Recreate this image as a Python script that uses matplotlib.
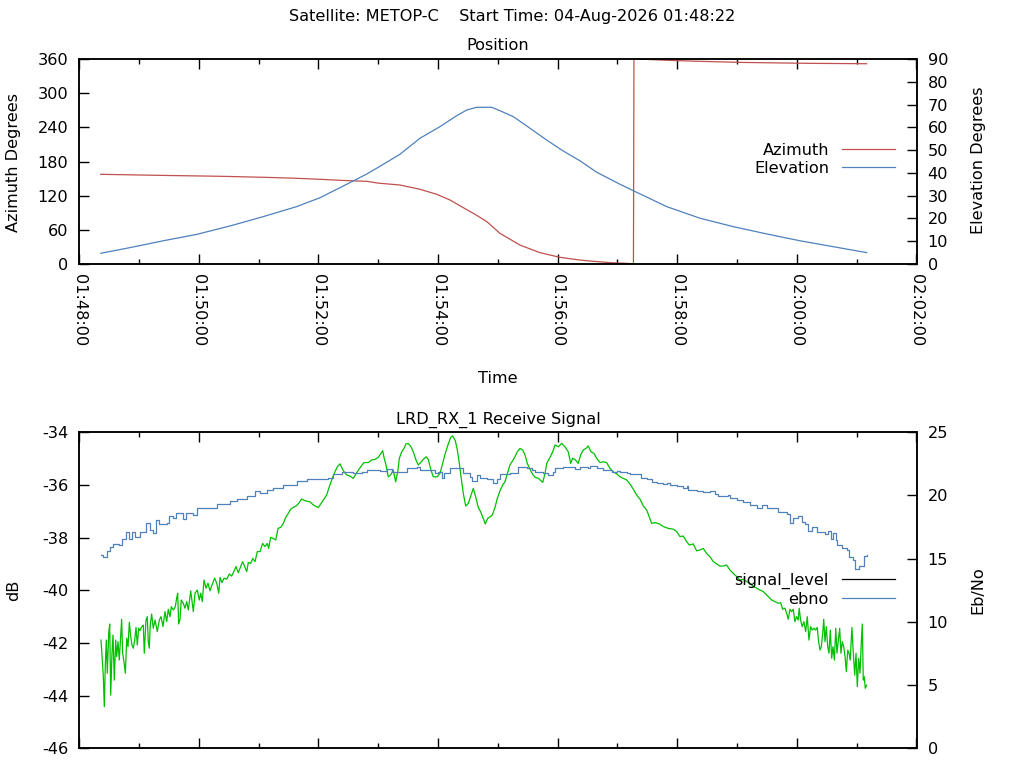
import matplotlib
matplotlib.use("Agg")
import matplotlib.pyplot as plt
import matplotlib.dates as mdates
from matplotlib.lines import Line2D
import pandas as pd

# ---------------- data (seconds after 01:48:00) ----------------
base = pd.Timestamp("2026-08-04 01:48:00")

az_t = [21.5, 76.0, 142.8, 186.3, 218.1, 242.2, 260.9, 288.4, 300.0, 321.8, 341.8, 358.6,
        371.9, 385.3, 397, 409, 422, 442, 462, 482, 502, 516, 533, 548, 556,
        556.5, 567, 590, 621, 665, 732, 790]
az_v = [157.5, 155.8, 154.0, 152.2, 150.5, 148.7, 147.0, 145.2, 142.0, 138.7, 131.2, 122.4,
        112.4, 98.9, 87.3, 74.3, 53.9, 33.4, 20.0, 11.8, 7, 4.7, 2.3, 1.2, 0.5,
        359.8, 359.5, 357.7, 356, 354, 352.4, 351.7]

el_t = [21.5, 50.9, 84.3, 117.8, 151.2, 184.6, 218.1, 241.5, 268.3, 288.4, 301.7, 321.8,
        341.8, 361.9, 378.6, 388.7, 398.7, 413.8, 422.1, 435.4, 452.2, 469.0, 485.6, 502.4,
        519.1, 542.5, 555.8, 589.3, 622.7, 656.2, 689.7, 723.1, 756.5, 790.0]
el_v = [4.7, 7.2, 10.2, 13.0, 16.7, 20.8, 25.2, 29.1, 35.0, 39.5, 42.9, 48.2,
        55.2, 60.3, 65.1, 67.6, 68.8, 68.8, 67.3, 64.7, 59.6, 54.4, 49.6, 45.3,
        40.3, 35.0, 32.2, 25.2, 20.1, 16.4, 13.2, 10.2, 7.6, 5.0]

sig_t = [21.8, 23.1, 24.1, 25.1, 26.1, 27.1, 28.1, 29.5, 30.5, 31.5, 32.8, 33.8, 35.1, 36.5,
         37.5, 38.8, 40.1, 41.5, 42.5, 43.5, 44.8, 46.2, 47.6, 48.9, 50.2, 51.6, 52.9, 54.2,
         55.6, 56.9, 58.2, 59.6, 60.9, 62.6, 64.2, 65.2, 66.9, 68.2, 69.2, 70.2, 71.2, 72.6,
         74.2, 76.0, 78.3, 80.3, 82.0, 84.0, 86.0, 87.7, 89.3, 91.0, 92.3, 94.3, 96.3, 97.7,
         98.7, 99.7, 101.0, 102.3, 104.3, 106.0, 107.8, 109.4, 111.8, 113.1, 114.4, 116.1,
         118.4, 120.4, 121.8, 123.4, 125.1, 127.1, 129.1, 131.1, 133.8, 135.8, 137.9, 139.9,
         141.2, 143.2, 145.2, 147.9, 150.5, 152.9, 154.5, 157.2, 159.5, 161.9, 163.9, 165.9,
         168.0, 169.6, 172.0, 174.0, 176.3, 178.6, 181.3, 184.0, 186.3, 188.6, 190.0, 192.0,
         194.6, 197.1, 199.4, 202.1, 204.7, 207.4, 209.7, 212.1, 214.7, 217.4, 220.1, 223.1,
         226.4, 231.5, 234.8, 239.8, 244.8, 248.2, 250.8, 253.8, 256.5, 258.9, 261.6, 264.9,
         268.3, 271.6, 274.9, 278.9, 282.3, 285.6, 290.0, 293.4, 296.7, 300.0, 304.4, 305.7,
         307.7, 310.0, 312.4, 315.0, 317.4, 319.5, 321.1, 323.5, 325.8, 327.8, 330.1, 332.5,
         335.1, 337.8, 340.1, 342.5, 345.1, 347.9, 350.2, 352.6, 355.2, 359.2, 361.9, 364.6,
         367.2, 369.9, 372.6, 374.6, 377.3, 379.3, 381.3, 383.0, 385.3, 387.7, 390.3, 392.7,
         395.3, 397.7, 400.3, 402.7, 405.3, 407.3, 409.8, 412.1, 414.4, 417.1, 419.4, 422.1,
         424.8, 427.1, 429.4, 432.1, 434.8, 437.1, 439.5, 442.2, 444.9, 447.2, 449.5, 452.2,
         454.9, 457.5, 460.6, 465.0, 467.3, 469.0, 472.3, 475.0, 477.3, 480.6, 484.0, 487.3,
         490.6, 493.0, 495.0, 497.3, 500.6, 503.0, 505.7, 508.4, 510.7, 513.4, 516.4, 519.1,
         522.4, 525.7, 529.1, 532.4, 535.8, 539.2, 542.5, 545.8, 549.2, 552.5, 555.8, 559.2,
         562.6, 565.9, 569.3, 571.9, 574.3, 577.6, 582.6, 586.0, 591.0, 596.0, 599.4, 602.7,
         606.0, 609.4, 612.0, 616.0, 619.4, 622.7, 626.1, 629.4, 632.7, 636.1, 639.5, 642.8,
         646.1, 649.5, 652.8, 656.2, 659.6, 662.9, 666.2, 669.6, 672.9, 676.3, 679.6, 682.9,
         686.3, 691.3, 694.7, 698.0, 701.3, 703.7, 705.7, 708.0, 709.7, 711.3, 713.0, 714.7,
         716.3, 718.0, 719.7, 721.3, 722.3, 723.7, 725.3, 727.0, 728.8, 730.4, 732.1, 733.8,
         735.4, 737.1, 738.8, 740.4, 741.8, 743.2, 744.5, 745.9, 746.9, 748.2, 749.5, 750.9,
         752.2, 753.5, 754.9, 756.2, 757.6, 759.0, 760.2, 761.5, 762.9, 764.2, 765.6, 767.0,
         768.3, 769.6, 771.0, 772.3, 773.5, 775.2, 776.6, 778.0, 779.3, 780.6, 782.0, 783.3,
         784.6, 785.6, 786.6, 787.6, 788.6, 790.0]
sig_v = [-41.89, -42.71, -43.28, -44.42, -42.84, -41.89, -43.15, -41.63, -41.28, -43.98, -42.39,
         -41.70, -43.41, -41.89, -42.52, -41.95, -42.65, -41.74, -41.10, -42.39, -42.71, -43.15,
         -41.82, -42.14, -41.22, -41.76, -42.08, -42.20, -41.89, -41.41, -42.08, -41.44, -41.53,
         -41.38, -41.32, -42.39, -41.13, -41.00, -41.95, -42.20, -41.32, -40.90, -41.44, -41.13,
         -41.57, -41.13, -41.00, -41.38, -40.81, -41.19, -40.72, -41.00, -40.62, -40.75, -40.62,
         -40.30, -40.11, -41.28, -41.13, -40.37, -40.49, -40.68, -40.43, -40.75, -40.02, -40.43,
         -40.81, -40.11, -39.99, -40.37, -40.11, -40.43, -39.61, -39.92, -39.73, -40.02, -39.73,
         -39.54, -39.73, -40.11, -39.51, -39.71, -39.54, -39.58, -39.38, -39.46, -39.33, -39.10,
         -39.33, -39.10, -38.91, -39.10, -39.29, -38.94, -38.98, -38.79, -38.91, -38.53, -38.53,
         -38.22, -38.34, -38.22, -38.41, -37.99, -38.03, -38.09, -37.65, -37.61, -37.46, -37.21,
         -37.08, -36.92, -36.85, -36.80, -36.70, -36.53, -36.60, -36.64, -36.76, -36.86, -36.57,
         -36.38, -36.07, -35.75, -35.50, -35.31, -35.20, -35.46, -35.62, -35.66, -35.75, -35.50,
         -35.31, -35.15, -35.15, -35.05, -35.03, -34.95, -34.70, -34.95, -35.24, -35.69, -35.62,
         -35.43, -35.88, -35.50, -34.99, -34.74, -34.61, -34.44, -34.43, -34.53, -34.74, -35.05,
         -35.24, -35.15, -35.03, -34.93, -35.03, -35.41, -35.69, -35.69, -35.56, -35.18, -34.80,
         -34.48, -34.19, -34.14, -34.32, -34.67, -35.18, -35.69, -36.32, -36.80, -36.70, -36.42,
         -36.13, -36.45, -36.85, -37.02, -37.27, -37.48, -37.27, -37.21, -37.14, -36.85, -36.51,
         -36.22, -36.00, -35.88, -35.58, -35.24, -35.08, -34.93, -34.74, -34.61, -34.67, -34.86,
         -35.18, -35.40, -35.60, -35.71, -35.75, -35.90, -35.56, -35.18, -34.95, -34.74, -34.48,
         -34.55, -34.42, -34.55, -34.74, -35.18, -34.99, -35.03, -35.18, -34.86, -34.67, -34.61,
         -34.52, -34.74, -34.80, -34.99, -35.15, -35.12, -35.15, -35.37, -35.50, -35.58, -35.69,
         -35.75, -35.81, -35.96, -36.16, -36.38, -36.54, -36.80, -36.95, -37.21, -37.46, -37.43,
         -37.49, -37.58, -37.65, -37.68, -37.77, -37.96, -37.94, -38.15, -38.28, -38.24, -38.50,
         -38.47, -38.41, -38.60, -38.72, -38.91, -39.00, -39.08, -39.08, -39.04, -39.23, -39.36,
         -39.48, -39.61, -39.58, -39.67, -39.73, -39.86, -39.92, -39.99, -40.05, -40.24, -40.37,
         -40.43, -40.49, -40.47, -40.72, -40.68, -40.87, -41.10, -40.72, -40.81, -40.72, -41.19,
         -41.00, -41.13, -40.68, -41.13, -41.38, -41.19, -41.57, -41.00, -41.89, -41.38, -41.51,
         -41.44, -41.51, -41.41, -41.95, -42.27, -42.14, -41.63, -41.10, -41.95, -41.38, -42.14,
         -42.39, -41.51, -42.58, -42.14, -42.65, -41.44, -42.39, -41.95, -41.44, -42.39, -41.95,
         -42.14, -42.52, -43.09, -42.27, -42.39, -42.65, -41.41, -42.39, -43.22, -42.39, -43.66,
         -42.58, -43.15, -42.01, -41.28, -43.41, -43.28, -43.72, -43.60]

eb_t = [21.8, 24.1, 27.5, 30.8, 34.1, 40.1, 43.1, 46.9, 50.2, 52.9, 55.9, 60.9, 66.9, 70.9,
        74.2, 77.0, 80.3, 87.7, 90.3, 93.7, 97.0, 101.0, 103.7, 107.1, 113.8, 117.8, 131.1,
        137.9, 151.2, 157.9, 168.0, 176.3, 181.3, 188.0, 194.6, 204.7, 218.1, 228.1, 241.5,
        249.8, 254.8, 263.3, 274.9, 283.3, 288.3, 301.7, 309.0, 313.4, 321.7, 328.5, 338.5,
        341.8, 353.6, 356.9, 360.2, 363.6, 365.9, 371.9, 381.3, 385.3, 392.0, 393.7, 398.7,
        402.1, 408.8, 414.8, 418.8, 422.1, 432.1, 440.5, 448.9, 453.9, 457.2, 465.5, 470.6,
        475.6, 477.3, 485.6, 494.0, 497.3, 502.3, 510.7, 512.4, 519.1, 525.7, 534.1, 539.2,
        542.5, 549.2, 552.5, 559.2, 563.2, 569.3, 574.3, 579.3, 586.0, 589.4, 592.7, 599.4,
        606.0, 609.4, 611.0, 619.4, 626.1, 632.7, 637.7, 641.1, 646.1, 651.2, 652.8, 659.6,
        666.2, 672.9, 679.6, 684.6, 689.7, 698.0, 701.3, 709.7, 713.0, 716.3, 721.3, 724.7,
        728.0, 731.4, 734.7, 739.8, 744.8, 748.2, 751.5, 753.9, 756.5, 759.2, 760.5, 764.9,
        769.9, 772.5, 776.6, 778.3, 780.6, 782.6, 786.0, 787.6, 790.0]
eb_v = [15.3, 15.1, 15.6, 15.95, 16.2, 16.1, 16.55, 17.1, 16.55, 17.1, 16.7, 17.1, 17.8, 17.3,
        17.0, 18.1, 17.75, 17.85, 18.4, 18.2, 18.6, 18.65, 18.15, 18.65, 18.45, 19.0, 19.0,
        19.3, 19.55, 19.7, 19.95, 20.35, 20.2, 20.4, 20.6, 20.8, 21.15, 21.31, 21.28,
        21.36, 21.70, 21.86, 21.76, 21.88, 22.02, 21.96, 22.07, 21.88, 21.88, 22.15, 22.23,
        22.02, 22.02, 21.76, 21.88, 21.36, 21.80, 22.20, 22.20, 21.76, 21.49, 21.17, 21.62,
        21.36, 21.28, 21.01, 21.28, 21.68, 21.76, 22.23, 22.20, 22.02, 21.88, 21.80, 21.62,
        21.88, 22.15, 22.28, 22.23, 22.10, 22.23, 22.15, 22.36, 22.15, 22.02, 21.88, 21.96,
        21.84, 21.76, 21.68, 21.68, 21.36, 21.31, 21.09, 20.96, 20.88, 21.01, 20.83, 20.78,
        20.57, 20.78, 20.43, 20.35, 20.25, 20.35, 20.12, 19.96, 19.96, 20.04, 19.78, 19.64,
        19.51, 19.25, 18.99, 19.28, 18.99, 18.99, 18.72, 18.54, 17.85, 18.20, 18.40, 17.93,
        17.75, 17.19, 17.48, 17.14, 17.14, 16.95, 17.22, 16.56, 17.01, 16.48, 16.08, 15.87,
        15.69, 15.16, 14.90, 14.19, 14.19, 14.42, 14.42, 15.24, 15.29]

x_start, x_end = "01:48:00", "02:02:00"
az_ticks = [0, 60, 120, 180, 240, 300, 360]
el_ticks = list(range(0, 91, 10))
db_ticks = [-46, -44, -42, -40, -38, -36, -34]
eb_ticks = [0, 5, 10, 15, 20, 25]

suptitle = "Satellite: METOP-C    Start Time: 04-Aug-2026 01:48:22"

# ---------------- styling ----------------
RED = "#C0504D"
BLUE = "#4F81BD"
GREEN = "#00C000"
FS = 11.6
plt.rcParams["font.family"] = ["DejaVu Sans"]
plt.rcParams["font.size"] = FS
plt.rcParams["axes.unicode_minus"] = False


def tt(secs):
    return [base + pd.Timedelta(seconds=s) for s in secs]


fig = plt.figure(figsize=(10.24, 7.68), dpi=100)
W, H = 1024, 768
L, R = 79.3, 916.5
ax1 = fig.add_axes([L / W, 1 - 264 / H, (R - L) / W, 205 / H])
ax2 = fig.add_axes([L / W, 1 - 748.3 / H, (R - L) / W, 316 / H])
ax1r = ax1.twinx()
ax2r = ax2.twinx()

xmin = pd.Timestamp("2026-08-04 " + x_start)
xmax = pd.Timestamp("2026-08-04 " + x_end)

# top panel
ax1.plot(tt(az_t), az_v, color=RED, lw=0.9)
ax1r.plot(tt(el_t), el_v, color=BLUE, lw=0.9)
ax1.set_ylim(0, 360)
ax1.set_yticks(az_ticks)
ax1r.set_ylim(0, 90)
ax1r.set_yticks(el_ticks)

# bottom panel
ax2.plot(tt(sig_t), sig_v, color=GREEN, lw=0.9)
ax2r.plot(tt(eb_t), eb_v, color=BLUE, lw=0.9, drawstyle="steps-post")
ax2.set_ylim(-46, -34)
ax2.set_yticks(db_ticks)
ax2r.set_ylim(0, 25)
ax2r.set_yticks(eb_ticks)

for a in (ax1, ax2):
    a.set_xlim(xmin, xmax)
    a.xaxis.set_major_locator(mdates.MinuteLocator(byminute=range(0, 60, 2)))
    a.xaxis.set_minor_locator(mdates.MinuteLocator())
    a.xaxis.set_major_formatter(mdates.DateFormatter("%H:%M:%S"))
    a.tick_params(axis="x", which="both", direction="in", top=True, bottom=True)
    a.tick_params(axis="x", which="major", length=7, width=1, pad=7)
    a.tick_params(axis="x", which="minor", length=3.5, width=1)
    a.tick_params(axis="y", which="both", direction="in", length=7, width=1, pad=8,
                  left=True, right=False)
    for lab in a.get_xticklabels():
        lab.set_rotation(-90)
        lab.set_va("top")
        lab.set_ha("center")
for a in (ax1r, ax2r):
    a.tick_params(axis="y", which="both", direction="in", length=7, width=1, pad=8)
for a in (ax1, ax2, ax1r, ax2r):
    for s in a.spines.values():
        s.set_linewidth(1.1)
ax2.tick_params(axis="x", labelbottom=False)

# texts
fig.text(512 / W, 1 - 17 / H, suptitle, ha="center", va="center", fontsize=FS)
fig.text(498 / W, 1 - 46 / H, "Position", ha="center", va="center", fontsize=FS)
fig.text(498 / W, 1 - 420 / H, "LRD_RX_1 Receive Signal", ha="center", va="center", fontsize=FS)
fig.text(498 / W, 1 - 379 / H, "Time", ha="center", va="center", fontsize=FS)
fig.text(14 / W, 1 - 163 / H, "Azimuth Degrees", rotation=90, ha="center", va="center", fontsize=FS)
fig.text(978 / W, 1 - 160 / H, "Elevation Degrees", rotation=90, ha="center", va="center", fontsize=FS)
fig.text(14 / W, 1 - 590 / H, "dB", rotation=90, ha="center", va="center", fontsize=FS)
fig.text(978 / W, 1 - 590 / H, "Eb/No", rotation=90, ha="center", va="center", fontsize=FS)

leg_kw = dict(frameon=False, markerfirst=False, loc="center right", borderpad=0,
              borderaxespad=0, handlelength=3.3, handletextpad=0.8, labelspacing=0.2,
              fontsize=FS)
ax1r.legend([Line2D([], [], color=RED, lw=0.9), Line2D([], [], color=BLUE, lw=0.9)],
            ["Azimuth", "Elevation"], bbox_to_anchor=((895 - L) / (R - L), (264 - 159.5) / 205),
            **leg_kw)
ax2r.legend([Line2D([], [], color="black", lw=0.9), Line2D([], [], color=BLUE, lw=0.9)],
            ["signal_level", "ebno"], bbox_to_anchor=((895 - L) / (R - L), 0.502),
            **leg_kw)

fig.savefig("out.png", dpi=100)
